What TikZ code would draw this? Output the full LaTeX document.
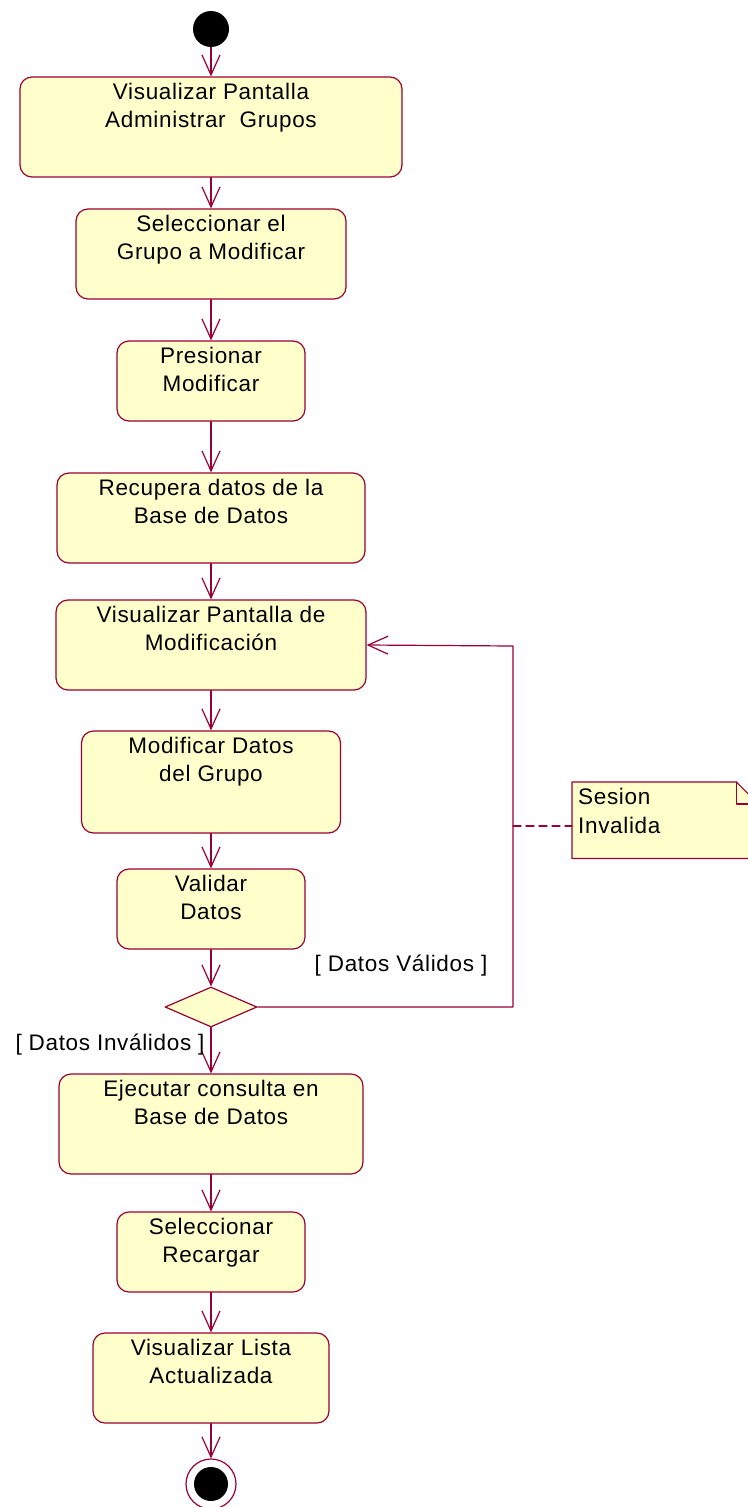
\documentclass[tikz,border=0pt]{standalone}
\usepackage{fontspec}
\setmainfont[LetterSpace=3]{Liberation Sans}
\usepackage{xcolor}
\usetikzlibrary{positioning, arrows.meta, shapes.geometric}

\definecolor{umlred}{RGB}{153,0,51}
\definecolor{umlfill}{RGB}{255,255,204}

\begin{document}
\begin{tikzpicture}[x=1pt, y=-1pt, line join=round, line cap=round,
    act/.style={draw=umlred, fill=umlfill, rounded corners=12pt, line width=1.2pt, inner sep=0pt},
    txt/.style={anchor=north, align=center, inner sep=0pt, yshift=-7pt, font=\fontsize{22.5}{28}\selectfont},
    notetxt/.style={anchor=north west, align=left, inner sep=0pt, xshift=6pt, yshift=-6pt, font=\fontsize{22.5}{29}\selectfont},
    guard/.style={inner sep=0pt, font=\fontsize{22.5}{28}\selectfont},
    flow/.style={draw=umlred, line width=1.2pt, -{Straight Barb[length=20pt, width=18pt, line width=1.2pt]}},
    link/.style={draw=umlred, line width=1.2pt, dash pattern=on 8pt off 5pt}]

    \useasboundingbox (0,0) rectangle (747,1507);

    % Start
    \node[circle, fill=black, minimum size=36pt, inner sep=0pt] (start) at (211,29) {};

    % Activities
    \node[act, minimum width=382, minimum height=100, label={[txt]north:Visualizar Pantalla\\Administrar~ Grupos}] (vpag) at (211,127) {};
    \node[act, minimum width=270, minimum height=90, label={[txt]north:Seleccionar el\\Grupo a Modificar}] (selgr) at (211,254) {};
    \node[act, minimum width=188, minimum height=80, label={[txt]north:Presionar\\Modificar}] (pres) at (211,381) {};
    \node[act, minimum width=308, minimum height=90, label={[txt]north:Recupera datos de la\\Base de Datos}] (recup) at (211,518) {};
    \node[act, minimum width=310, minimum height=90, label={[txt]north:Visualizar Pantalla de\\Modificación}] (vpmod) at (211,645) {};
    \node[act, minimum width=259, minimum height=102, label={[txt]north:Modificar Datos\\del Grupo}] (moddat) at (211,782) {};
    \node[act, minimum width=188, minimum height=80, label={[txt]north:Validar\\Datos}] (valid) at (211,909) {};

    % Decision
    \node[diamond, draw=umlred, fill=umlfill, line width=1.2pt, inner sep=0pt, aspect=2.3, minimum width=92, minimum height=40] (dec) at (211,1007) {};

    \node[act, minimum width=304, minimum height=100, label={[txt]north:Ejecutar consulta en\\Base de Datos}] (ejec) at (211,1124) {};
    \node[act, minimum width=188, minimum height=80, label={[txt]north:Seleccionar\\Recargar}] (recar) at (211,1252) {};
    \node[act, minimum width=236, minimum height=90, label={[txt]north:Visualizar Lista\\Actualizada}] (lista) at (211,1378) {};

    % End
    \node[circle, draw=umlred, fill=white, line width=1.2pt, minimum size=50pt, inner sep=0pt] (stop) at (211,1484) {};
    \fill[black] (stop.center) circle (17);

    % Flow
    \draw[flow] (start) -- (vpag);
    \draw[flow] (vpag) -- (selgr);
    \draw[flow] (selgr) -- (pres);
    \draw[flow] (pres) -- (recup);
    \draw[flow] (recup) -- (vpmod);
    \draw[flow] (vpmod) -- (moddat);
    \draw[flow] (moddat) -- (valid);
    \draw[flow] (valid) -- (dec);
    \draw[flow] (dec) -- (ejec);
    \draw[flow] (ejec) -- (recar);
    \draw[flow] (recar) -- (lista);
    \draw[flow] (lista) -- (stop);

    % Loop back
    \coordinate (back) at (513,646);
    \draw[flow] (dec.east) -| (back) -- (vpmod.east);

    % Guards
    \node[guard] (gval) at (401,966) {[ Datos Válidos ]};
    \node[guard] (ginv) at (110,1045) {[ Datos Inválidos ]};

    % Note
    \node[minimum width=186, minimum height=76, inner sep=0pt, anchor=north west] (note) at (572,782) {};
    \filldraw[fill=umlfill, draw=umlred, line width=1.2pt] (note.north west) -- ([xshift=-22pt]note.north east) -- ([yshift=-22pt]note.north east) -- (note.south east) -- (note.south west) -- cycle;
    \draw[umlred, line width=1.2pt] ([xshift=-22pt]note.north east) |- ([yshift=-22pt]note.north east);
    \node[notetxt] (notet) at (note.north west) {Sesion\\Invalida};
    \coordinate (lnk) at (513,826);
    \draw[link] (lnk) -- (lnk -| note.west);
\end{tikzpicture}
\end{document}
